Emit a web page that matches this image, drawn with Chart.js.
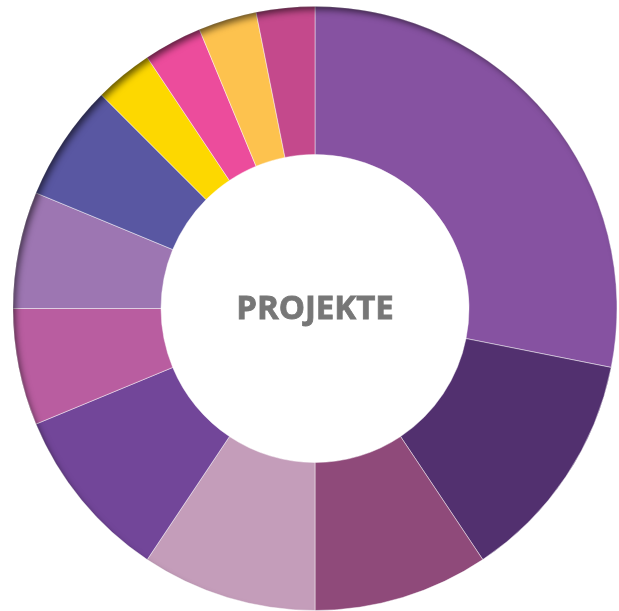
<!DOCTYPE html>
<html>
<head>
<meta charset="utf-8">
<script src="https://cdn.jsdelivr.net/npm/chart.js@4/dist/chart.umd.min.js"></script>
<style>
  html, body { margin: 0; padding: 0; background: #ffffff; }
  #wrap { width: 619px; height: 611px; position: relative; }
</style>
</head>
<body>
<div id="wrap"><canvas id="c"></canvas></div>
<script>
const categories = ['Projekt 1','Projekt 2','Projekt 3','Projekt 4','Projekt 5','Projekt 6','Projekt 7','Projekt 8','Projekt 9','Projekt 10','Projekt 11','Projekt 12'];
const values = [9, 4, 3, 3, 3, 2, 2, 2, 1, 1, 1, 1];
const colors = ['#8652A1','#52306F','#8F4A7A','#C49DBA','#724699','#B95DA0','#9D76B2','#5957A2','#FDD800','#EC4C9C','#FDC24E','#C4498C'];
const centerLabel = 'PROJEKTE';

const innerShadow = {
  id: 'innerShadow',
  afterDatasetsDraw(chart) {
    const meta = chart.getDatasetMeta(0);
    const arc = meta.data[0];
    if (!arc) return;
    const cx = arc.x, cy = arc.y, R = arc.outerRadius;
    const ctx = chart.ctx;
    ctx.save();
    ctx.beginPath();
    ctx.arc(cx, cy, R, 0, Math.PI * 2);
    ctx.clip();
    ctx.beginPath();
    ctx.rect(-2000, -2000, 5000, 5000);
    ctx.arc(cx, cy, R + 2, 0, Math.PI * 2, true);
    ctx.shadowColor = 'rgba(0,0,0,0.6)';
    ctx.shadowBlur = 7;
    ctx.shadowOffsetX = 4;
    ctx.shadowOffsetY = 5;
    ctx.fillStyle = '#000';
    ctx.fill('evenodd');
    ctx.restore();
  }
};

const centerText = {
  id: 'centerText',
  afterDraw(chart) {
    const arc = chart.getDatasetMeta(0).data[0];
    if (!arc) return;
    const ctx = chart.ctx;
    ctx.save();
    ctx.font = 'bold 33px "Open Sans", "DejaVu Sans", sans-serif';
    ctx.fillStyle = '#777777';
    ctx.strokeStyle = '#777777';
    ctx.lineWidth = 0.8;
    ctx.textAlign = 'center';
    ctx.textBaseline = 'middle';
    ctx.fillText(centerLabel, arc.x, arc.y + 1);
    ctx.strokeText(centerLabel, arc.x, arc.y + 1);
    ctx.restore();
  }
};

new Chart(document.getElementById('c'), {
  type: 'doughnut',
  data: {
    labels: categories,
    datasets: [{
      data: values,
      backgroundColor: colors,
      borderColor: 'rgba(255,255,255,0.45)',
      borderWidth: 1
    }]
  },
  options: {
    responsive: true,
    maintainAspectRatio: false,
    animation: false,
    radius: 302,
    cutout: 154,
    layout: { padding: { left: 11, right: 0, top: 6, bottom: 0 } },
    plugins: {
      legend: { display: false },
      tooltip: { enabled: false }
    }
  },
  plugins: [innerShadow, centerText]
});
</script>
</body>
</html>
